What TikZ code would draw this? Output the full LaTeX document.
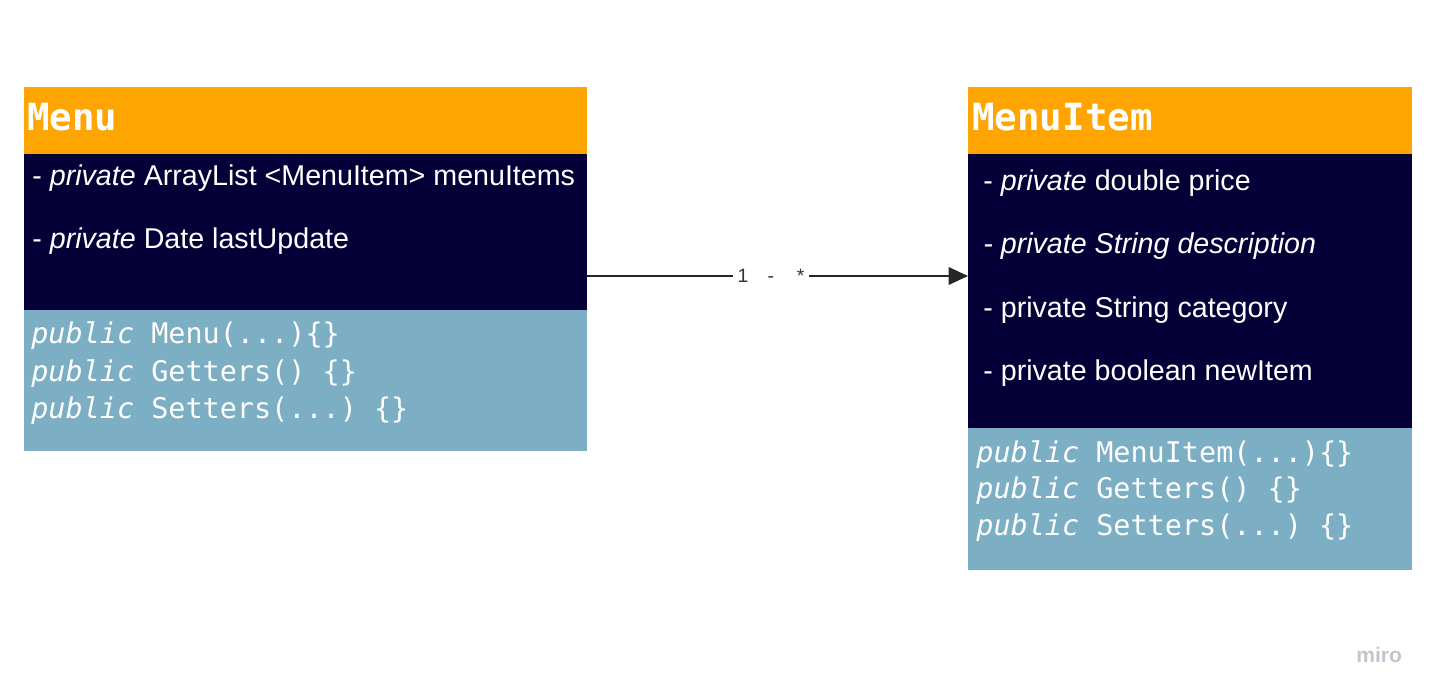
\documentclass[tikz,border=0pt]{standalone}
\usepackage{fontspec}
\setmainfont{Liberation Sans}
\setmonofont{DejaVu Sans Mono}
\usepackage{tikz}
\usetikzlibrary{arrows.meta}
\usepackage{xcolor}
\definecolor{hdrorange}{HTML}{FFA502}
\definecolor{bodynavy}{HTML}{050038}
\definecolor{methblue}{HTML}{7CAEC4}
\definecolor{wmgray}{HTML}{C4C4CE}

\begin{document}
\begin{tikzpicture}[x=0.02cm,y=-0.02cm,>={Triangle[length=11pt,width=10pt]},line cap=butt,
  box/.style={anchor=north west,inner sep=0pt,outer sep=0pt},
  title/.style={anchor=base west,inner sep=0pt,text=white,font=\ttfamily\bfseries\fontsize{21.3}{24}\selectfont},
  attr/.style={anchor=base west,inner sep=0pt,text=white,font=\fontsize{16.3}{19}\selectfont},
  meth/.style={anchor=base west,inner sep=0pt,text=white,font=\ttfamily\fontsize{16.2}{19}\selectfont}]
\useasboundingbox (0,0) rectangle (1435,696);
% Menu
\node[box,fill=hdrorange,minimum width=11.26cm,minimum height=1.34cm] (menuHead) at (24,87) {};
\node[box,fill=bodynavy,minimum width=11.26cm,minimum height=3.12cm] (menuBody) at (24,154) {};
\node[box,fill=methblue,minimum width=11.26cm,minimum height=2.82cm] (menuMeth) at (24,310) {};
\node[title] (menuTitle) at (27,131) {Menu};
\node[attr] (menuA1) at (32,185) {- \textit{private} ArrayList <MenuItem> menuItems};
\node[attr] (menuA2) at (32,248) {- \textit{private} Date lastUpdate};
\node[meth] (menuM1) at (31,343) {\textit{public} Menu(...)\{\}};
\node[meth] (menuM2) at (31,381) {\textit{public} Getters() \{\}};
\node[meth] (menuM3) at (31,418) {\textit{public} Setters(...) \{\}};
% MenuItem
\node[box,fill=hdrorange,minimum width=8.88cm,minimum height=1.34cm] (itemHead) at (968,87) {};
\node[box,fill=bodynavy,minimum width=8.88cm,minimum height=5.48cm] (itemBody) at (968,154) {};
\node[box,fill=methblue,minimum width=8.88cm,minimum height=2.84cm] (itemMeth) at (968,428) {};
\node[title] (itemTitle) at (972,131) {MenuItem};
\node[attr] (itemA1) at (983,190) {- \textit{private} double price};
\node[attr] (itemA2) at (983,253) {\textit{- private String description}};
\node[attr] (itemA3) at (983,317) {- private String category};
\node[attr] (itemA4) at (983,380) {- private boolean newItem};
\node[meth] (itemM1) at (976,462) {\textit{public} MenuItem(...)\{\}};
\node[meth] (itemM2) at (976,498) {\textit{public} Getters() \{\}};
\node[meth] (itemM3) at (976,535) {\textit{public} Setters(...) \{\}};
% association
\node[fill=white,text=black!80,inner sep=2.5pt,font=\fontsize{11}{13}\selectfont] (mult) at (771,276) {1\hspace{11pt}-\hspace{13pt}*};
\draw[line width=0.85pt,black!85] (menuBody.east |- mult) -- (mult.west);
\draw[line width=0.85pt,black!85,->] (mult.east) -- (itemBody.west |- mult);
% watermark
\node[anchor=base west,inner sep=0pt,text=wmgray,font=\bfseries\fontsize{12}{14}\selectfont] (wm) at (1356,662) {miro};
\end{tikzpicture}
\end{document}
